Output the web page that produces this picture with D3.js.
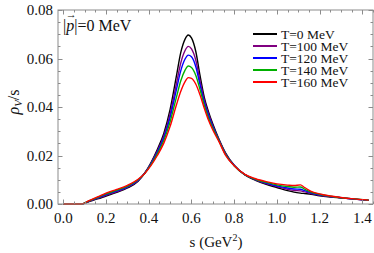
<html>
<head>
<title>rho_V spectral function</title>
<script src="https://cdn.jsdelivr.net/npm/d3@7"></script>
<style>
body{
    margin: 0;
    background: #fff;
}
text {
    font-family: "Liberation Serif", "DejaVu Serif", serif;
    fill: #111;
}
.frame {
    fill: none;
    stroke: #8c8c8c;
    stroke-width: 1px;
}
.tick {
    stroke: #8c8c8c;
    stroke-width: 1px;
}
.curve {
    fill: none;
    stroke-width: 1.4px;
    stroke-linejoin: round;
}
</style>
</head>
<body>
<div id="chart"></div>
<script>
var width  = 374,
    height = 253;

// s in GeV^2
var sVals = [0, 0.05, 0.086, 0.12, 0.16, 0.2, 0.25, 0.3, 0.35, 0.38, 0.41, 0.44, 0.47, 0.5,
             0.53, 0.55, 0.57, 0.585, 0.6, 0.62, 0.64, 0.66, 0.68, 0.7, 0.73, 0.76, 0.8, 0.85,
             0.9, 0.95, 1.0, 1.05, 1.08, 1.11, 1.13, 1.16, 1.2, 1.25, 1.3, 1.35, 1.43];

var rhoT0   = [0, 0, 0, .0010, .0021, .0033, .0048, .0066, .0094, .0126, .0170, .0225, .0290, .0390,
               .0530, .0625, .0680, .0697, .0685, .0630, .0530, .0440, .0380, .0330, .0265, .0210, .0160, .0120,
               .0098, .0081, .0068, .0055, .0049, .0045, .0043, .0040, .0034, .0029, .0025, .0021, .0015];
var rhoT100 = [0, 0, 0, .0011, .0023, .0036, .0051, .0069, .0096, .0126, .0167, .0218, .0279, .0371,
               .0498, .0582, .0633, .0650, .0640, .0594, .0508, .0428, .0371, .0323, .0262, .0207, .0159, .0121,
               .0100, .0084, .0072, .0061, .0056, .0054, .0050, .0043, .0036, .0030, .0026, .0021, .0015];
var rhoT120 = [0, 0, 0, .0012, .0025, .0039, .0054, .0071, .0098, .0126, .0164, .0213, .0271, .0357,
               .0474, .0550, .0598, .0614, .0607, .0567, .0492, .0419, .0364, .0318, .0260, .0205, .0159, .0121,
               .0101, .0086, .0075, .0066, .0062, .0061, .0055, .0046, .0038, .0031, .0026, .0021, .0016];
var rhoT140 = [0, 0, 0, .0013, .0027, .0042, .0057, .0074, .0100, .0125, .0161, .0207, .0261, .0339,
               .0442, .0508, .0552, .0569, .0563, .0531, .0472, .0407, .0354, .0312, .0258, .0203, .0158, .0121,
               .0102, .0089, .0079, .0072, .0069, .0070, .0061, .0049, .0040, .0032, .0026, .0022, .0016];
var rhoT160 = [0, 0, 0, .0014, .0029, .0045, .0060, .0077, .0102, .0125, .0158, .0200, .0250, .0320,
               .0410, .0465, .0505, .0521, .0518, .0495, .0450, .0395, .0345, .0305, .0255, .0200, .0158, .0122,
               .0104, .0092, .0083, .0078, .0076, .0079, .0068, .0052, .0042, .0033, .0027, .0022, .0016];

var seriesNames  = ['T=0 MeV', 'T=100 MeV', 'T=120 MeV', 'T=140 MeV', 'T=160 MeV'];
var seriesColors = ['#000000', '#800080', '#0000ff', '#00b000', '#ff0000'];
var seriesData   = [rhoT0, rhoT100, rhoT120, rhoT140, rhoT160];

var xTicks = [0, 0.2, 0.4, 0.6, 0.8, 1.0, 1.2, 1.4];
var yTicks = [0, 0.02, 0.04, 0.06, 0.08];

var x = d3.scaleLinear().domain([-0.025, 1.45]).range([58, 373]);
var y = d3.scaleLinear().domain([0, 0.08]).range([204, 10]);

var svg = d3.select('#chart')
    .append('svg')
    .attr('width', width)
    .attr('height', height);

var line = d3.line()
    .x(function(d) { return x(d[0]); })
    .y(function(d) { return y(d[1]); })
    .curve(d3.curveMonotoneX);

// red ends up on top, as in the reference
seriesData.forEach(function(vals, i) {
    svg.append('path')
        .datum(sVals.map(function(s, j) { return [s, vals[j]]; }))
        .attr('class', 'curve')
        .attr('stroke', seriesColors[i])
        .attr('d', line);
});

// frame
svg.append('rect')
    .attr('class', 'frame')
    .attr('x', x.range()[0])
    .attr('y', y.range()[1])
    .attr('width', x.range()[1] - x.range()[0])
    .attr('height', y.range()[0] - y.range()[1]);

// frame ticks on all four sides, pointing in
var xMinor = d3.range(0, 1.451, 0.05),
    yMinor = d3.range(0, 0.0801, 0.005);
function isMajor(v, step) { return Math.abs(v / step - Math.round(v / step)) < 1e-6; }

xMinor.forEach(function(v) {
    var len = isMajor(v, 0.2) ? 4.5 : 2.5, px = Math.round(x(v)) + 0.5;
    svg.append('line').attr('class', 'tick')
        .attr('x1', px).attr('x2', px).attr('y1', y(0)).attr('y2', y(0) - len);
    svg.append('line').attr('class', 'tick')
        .attr('x1', px).attr('x2', px).attr('y1', y(0.08)).attr('y2', y(0.08) + len);
});
yMinor.forEach(function(v) {
    var len = isMajor(v, 0.02) ? 4.5 : 2.5, py = Math.round(y(v)) + 0.5;
    svg.append('line').attr('class', 'tick')
        .attr('y1', py).attr('y2', py).attr('x1', x.range()[0]).attr('x2', x.range()[0] + len);
    svg.append('line').attr('class', 'tick')
        .attr('y1', py).attr('y2', py).attr('x1', x.range()[1]).attr('x2', x.range()[1] - len);
});

// tick labels
svg.selectAll('.xlab')
    .data(xTicks)
    .enter().append('text')
    .attr('x', function(d) { return x(d); })
    .attr('y', 223)
    .attr('text-anchor', 'middle')
    .style('font-size', '15px')
    .text(function(d) { return d.toFixed(1); });

svg.selectAll('.ylab')
    .data(yTicks)
    .enter().append('text')
    .attr('x', 53)
    .attr('y', function(d) { return y(d) + 5; })
    .attr('text-anchor', 'end')
    .style('font-size', '15px')
    .text(function(d) { return d.toFixed(2); });

// axis titles
var xt = svg.append('text')
    .attr('x', 216)
    .attr('y', 247)
    .attr('text-anchor', 'middle')
    .style('font-size', '15px');
xt.append('tspan').text('s (GeV');
xt.append('tspan').attr('dy', -6).style('font-size', '10px').text('2');
xt.append('tspan').attr('dy', 6).text(')');

var yt = svg.append('text')
    .attr('transform', 'translate(19,102) rotate(-90)')
    .attr('text-anchor', 'middle')
    .style('font-size', '16px');
yt.append('tspan').style('font-style', 'italic').text('ρ');
yt.append('tspan').attr('dy', 3).style('font-size', '11px').style('font-style', 'italic').text('V');
yt.append('tspan').attr('dy', -3).text('/s');

// momentum annotation
var ann = svg.append('text')
    .attr('x', 63)
    .attr('y', 31)
    .style('font-size', '16px');
ann.append('tspan').text('|');
ann.append('tspan').style('font-style', 'italic').text('p');
ann.append('tspan').text('|=0 MeV');
var p0 = ann.node().getStartPositionOfChar(1).x,
    p1 = ann.node().getEndPositionOfChar(1).x;
svg.append('text')
    .attr('x', (p0 + p1) / 2 + 1)
    .attr('y', 18)
    .attr('text-anchor', 'middle')
    .style('font-size', '11px')
    .text('→');

// legend
var legendY = [34, 46, 58, 70, 82];
seriesNames.forEach(function(name, i) {
    svg.append('line')
        .attr('x1', 253).attr('x2', 277)
        .attr('y1', legendY[i]).attr('y2', legendY[i])
        .attr('stroke', seriesColors[i])
        .attr('stroke-width', 2);
    svg.append('text')
        .attr('x', 281)
        .attr('y', legendY[i] + 4.5)
        .style('font-size', '13.5px')
        .text(name);
});
</script>
</body>
</html>
